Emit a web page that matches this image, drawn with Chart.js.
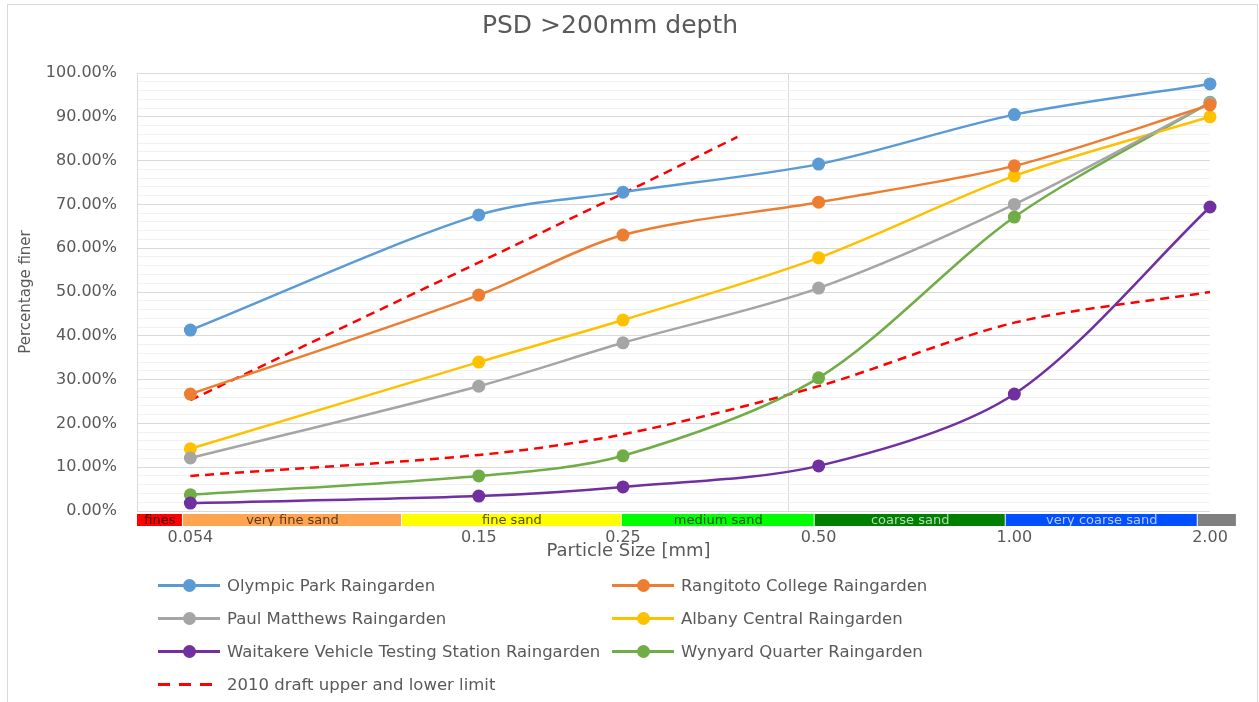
<!DOCTYPE html>
<html>
<head>
<meta charset="utf-8">
<script src="https://cdn.jsdelivr.net/npm/chart.js@4.4.1/dist/chart.umd.min.js"></script>
<style>
  html, body { margin: 0; padding: 0; background: #fff; }
  #wrap { position: relative; width: 1259px; height: 702px; overflow: hidden; font-family: "DejaVu Sans", sans-serif; }
  #frame { position: absolute; left: 7px; top: 4px; width: 1251px; height: 720px; border: 1px solid #d9d9d9; box-sizing: border-box; pointer-events: none; }
  #legend { position: absolute; left: 0; top: 569px; width: 1259px; height: 133px; }
  .item { position: absolute; height: 33px; display: flex; align-items: center; font-size: 16.5px; color: #595959; white-space: nowrap; }
  .sym { position: relative; width: 62px; height: 13px; margin-right: 7px; flex: none; }
  .sym .ln { position: absolute; left: 0; right: 0; top: 5px; height: 3px; }
  .sym .dot { position: absolute; left: 25px; top: 0; width: 13px; height: 13px; border-radius: 50%; }
</style>
</head>
<body>
<div id="wrap">
  <canvas id="psdChart" width="1259" height="702"></canvas>
  <div id="frame"></div>
  <div id="legend"></div>
</div>
<script>
// --- data (percentage finer) ---
const sizes = [0.054, 0.15, 0.25, 0.5, 1, 2];
const xTickValues = [0.054, 0.15, 0.25, 0.5, 1, 2];
const xTickLabels = ['0.054', '0.15', '0.25', '0.50', '1.00', '2.00'];

const olympicPark  = [41.3, 67.6, 72.8, 79.2, 90.5, 97.5];
const rangitoto    = [26.7, 49.3, 63.0, 70.5, 78.8, 92.7];
const paulMatthews = [12.1, 28.5, 38.4, 50.9, 70.0, 93.2];
const albany       = [14.2, 34.0, 43.6, 57.8, 76.5, 90.0];
const waitakere    = [1.8, 3.4, 5.5, 10.3, 26.7, 69.4];
const wynyard      = [3.7, 8.0, 12.6, 30.4, 67.1, 93.3];

const upperSizes = [0.054, 0.25, 0.375];
const upperLimit = [25.3, 72.5, 85.4];
const lowerLimit = [8.0, 12.8, 17.5, 28.5, 43.0, 50.0];

// sediment class strip under the axis
const bandEdges = [0.0447, 0.0526, 0.1143, 0.249, 0.493, 0.970, 1.915, 2.2];
const bandNames = ['fines', 'very fine sand', 'fine sand', 'medium sand', 'coarse sand', 'very coarse sand', ''];
const bandColors = ['#ff0000', '#ffa552', '#ffff00', '#00ff00', '#008000', '#0050ff', '#808080'];
const bandText = ['#400000', '#5a3a1a', '#505000', '#1a4a1a', '#b8d8b8', '#b8c8ff', '#fff'];

const textGrey = '#595959';

function pts(xs, ys) {
    return xs.map((x, i) => ({ x: x, y: ys[i] }));
}

function series(label, ys, color) {
    return {
        label: label,
        data: pts(sizes, ys),
        borderColor: color,
        backgroundColor: color,
        borderWidth: 2.5,
        pointRadius: 6.5,
        pointHoverRadius: 6.5,
        pointBorderWidth: 0,
        tension: 0.3,
        clip: false
    };
}

const datasets = [
    series('Olympic Park Raingarden', olympicPark, '#5b9bd5'),
    series('Rangitoto College Raingarden', rangitoto, '#ed7d31'),
    series('Paul Matthews Raingarden', paulMatthews, '#a5a5a5'),
    series('Albany Central Raingarden', albany, '#ffc000'),
    series('Waitakere Vehicle Testing Station Raingarden', waitakere, '#7030a0'),
    series('Wynyard Quarter Raingarden', wynyard, '#70ad47'),
    {
        label: '2010 draft upper and lower limit',
        data: pts(upperSizes, upperLimit),
        borderColor: '#ff0000',
        borderWidth: 2.5,
        borderDash: [9, 6],
        pointRadius: 0,
        tension: 0.3,
        dashed: true,
        clip: false
    },
    {
        label: 'lower limit',
        data: pts(sizes, lowerLimit),
        borderColor: '#ff0000',
        borderWidth: 2.5,
        borderDash: [9, 6],
        pointRadius: 0,
        tension: 0.3,
        hideInLegend: true,
        clip: false
    }
];

// strip of sand classes + x title
const bandPlugin = {
    id: 'bands',
    afterDraw(chart) {
        const { ctx, chartArea, scales } = chart;
        const x = scales.x;
        const top = chartArea.bottom + 3;
        const h = 12;
        ctx.save();
        for (let i = 0; i < bandNames.length; i++) {
            const x0 = x.getPixelForValue(bandEdges[i]);
            const x1 = x.getPixelForValue(bandEdges[i + 1]);
            ctx.fillStyle = bandColors[i];
            ctx.fillRect(x0, top, x1 - x0 - 1, h);
            if (bandNames[i]) {
                ctx.save();
                ctx.beginPath();
                ctx.rect(x0, top, x1 - x0 - 1, h);
                ctx.clip();
                ctx.fillStyle = bandText[i];
                ctx.font = '13px "DejaVu Sans"';
                ctx.textAlign = 'center';
                ctx.textBaseline = 'middle';
                ctx.fillText(bandNames[i], (x0 + x1) / 2, top + h / 2 + 1);
                ctx.restore();
            }
        }
        ctx.fillStyle = textGrey;
        ctx.font = '18px "DejaVu Sans"';
        ctx.textAlign = 'center';
        ctx.textBaseline = 'middle';
        ctx.fillText('Particle Size [mm]', (chartArea.left + chartArea.right) / 2 - 45, chartArea.bottom + 40);
        ctx.restore();
    }
};

const chart = new Chart(document.getElementById('psdChart'), {
    type: 'line',
    data: { datasets: datasets },
    plugins: [bandPlugin],
    options: {
        responsive: false,
        animation: false,
        events: [],
        layout: { padding: { top: 4, left: 10, right: 49, bottom: 131 } },
        plugins: {
            legend: { display: false },
            tooltip: { enabled: false },
            title: {
                display: true,
                text: 'PSD >200mm depth',
                color: textGrey,
                font: { family: '"DejaVu Sans"', size: 25, weight: 'normal' },
                padding: { top: 7, bottom: 32 }
            }
        },
        scales: {
            x: {
                type: 'logarithmic',
                min: 0.0447,
                max: 2,
                afterBuildTicks(scale) {
                    scale.ticks = xTickValues.concat([0.45]).map(v => ({ value: v }));
                },
                afterFit(scale) { scale.height = 60; },
                ticks: {
                    autoSkip: false,
                    maxRotation: 0,
                    padding: 17,
                    color: textGrey,
                    font: { family: '"DejaVu Sans"', size: 16 },
                    callback(value) {
                        const i = xTickValues.indexOf(value);
                        return i >= 0 ? xTickLabels[i] : '';
                    }
                },
                grid: {
                    drawTicks: false,
                    color: ctx => (ctx.tick && ctx.tick.value === 0.45) ? '#d9d9d9' : 'rgba(0,0,0,0)'
                },
                border: { display: false }
            },
            y: {
                min: 0,
                max: 100,
                afterFit(scale) { scale.width = 127; },
                ticks: {
                    stepSize: 2,
                    autoSkip: false,
                    padding: 20,
                    color: textGrey,
                    font: { family: '"DejaVu Sans"', size: 16 },
                    callback: v => (v % 10 === 0 ? v.toFixed(2) + '%' : '')
                },
                grid: {
                    drawTicks: false,
                    color: ctx => (ctx.tick && ctx.tick.value % 10 === 0) ? '#d9d9d9' : '#f2f2f2'
                },
                border: { display: true, color: '#d9d9d9' },
                title: {
                    display: true,
                    text: 'Percentage finer',
                    color: textGrey,
                    font: { family: '"DejaVu Sans"', size: 15 },
                    padding: { top: 7, bottom: 0 }
                }
            }
        }
    }
});

// --- legend in two columns ---
const legendBox = document.getElementById('legend');
let k = 0;
chart.data.datasets.forEach(ds => {
    if (ds.hideInLegend) return;
    const item = document.createElement('div');
    item.className = 'item';
    item.style.left = (k % 2 ? 612 : 158) + 'px';
    item.style.top = (Math.floor(k / 2) * 33) + 'px';
    const sym = document.createElement('span');
    sym.className = 'sym';
    const ln = document.createElement('span');
    ln.className = 'ln';
    sym.appendChild(ln);
    if (ds.dashed) {
        ln.style.background = 'repeating-linear-gradient(to right, ' + ds.borderColor + ' 0 12px, transparent 12px 21px)';
    } else {
        ln.style.background = ds.borderColor;
        const dot = document.createElement('span');
        dot.className = 'dot';
        dot.style.background = ds.borderColor;
        sym.appendChild(dot);
    }
    item.appendChild(sym);
    item.appendChild(document.createTextNode(ds.label));
    legendBox.appendChild(item);
    k++;
});
</script>
</body>
</html>
